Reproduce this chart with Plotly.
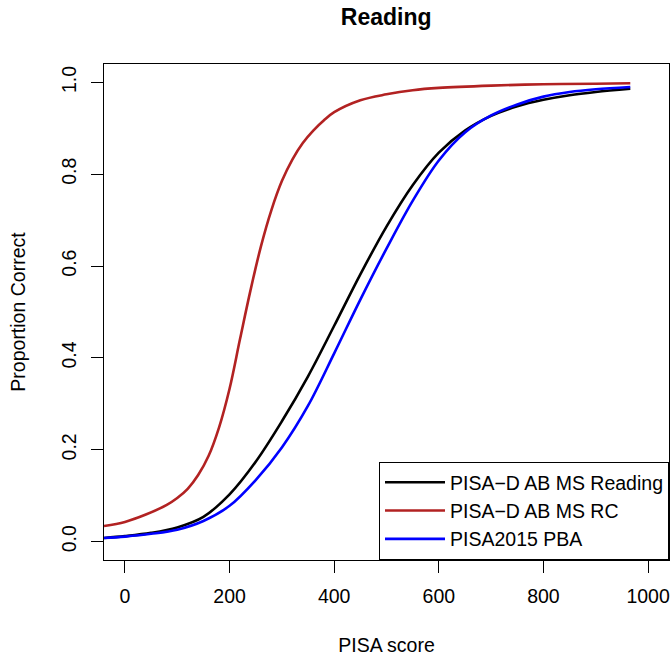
import plotly.graph_objects as go

# PISA score grid for the curves
score_red = [-40, 0, 40, 80, 100, 120, 140, 160, 180, 200, 220, 240, 260, 280, 300, 320, 340, 360, 380, 400, 450, 500, 550, 600, 700, 800, 900, 966]
rc_values = [0.034, 0.043, 0.059, 0.080, 0.095, 0.115, 0.145, 0.187, 0.249, 0.333, 0.441, 0.547, 0.643, 0.722, 0.785, 0.832, 0.868, 0.895, 0.917, 0.935, 0.961, 0.974, 0.983, 0.988, 0.993, 0.996, 0.997, 0.998]

score_grid = [-40, 0, 50, 100, 150, 200, 250, 300, 350, 400, 450, 500, 550, 600, 650, 700, 750, 800, 850, 900, 966]
reading_values = [0.008, 0.012, 0.019, 0.031, 0.054, 0.103, 0.174, 0.262, 0.360, 0.470, 0.582, 0.686, 0.776, 0.847, 0.895, 0.927, 0.948, 0.962, 0.972, 0.979, 0.986]
pba_values = [0.008, 0.011, 0.017, 0.026, 0.045, 0.078, 0.134, 0.205, 0.296, 0.410, 0.527, 0.638, 0.742, 0.830, 0.891, 0.928, 0.952, 0.969, 0.979, 0.985, 0.990]

series_names = ["PISA\u2212D AB MS Reading", "PISA\u2212D AB MS RC", "PISA2015 PBA"]
series_colors = ["#000000", "#B22222", "#0000FF"]

x_ticks = [0, 200, 400, 600, 800, 1000]
y_ticks = [0.0, 0.2, 0.4, 0.6, 0.8, 1.0]

FONT = "Liberation Sans, Arial, Helvetica, sans-serif"
FS = 19.5

fig = go.Figure()
for xs, ys, name, col in [(score_grid, reading_values, series_names[0], series_colors[0]),
                          (score_red, rc_values, series_names[1], series_colors[1]),
                          (score_grid, pba_values, series_names[2], series_colors[2])]:
    fig.add_trace(go.Scatter(x=xs, y=ys, mode="lines", name=name,
                             line=dict(color=col, width=2.6, shape="spline", smoothing=1.0)))

fig.update_layout(
    width=671, height=658,
    margin=dict(l=104, r=2, t=64, b=98),
    paper_bgcolor="white", plot_bgcolor="white",
    font=dict(family=FONT, size=FS, color="black"),
    title=dict(text="<b>Reading</b>", x=0.5755, xanchor="center", y=0.974, yanchor="middle",
               font=dict(size=23, family=FONT)),
    showlegend=True,
    legend=dict(x=1, y=0, xanchor="right", yanchor="bottom", bgcolor="white",
                bordercolor="black", borderwidth=1, font=dict(size=FS, family=FONT),
                tracegroupgap=0, itemwidth=60),
)

fig.update_xaxes(range=[-40, 1040], tickvals=x_ticks, ticktext=[str(v) for v in x_ticks],
                 showgrid=False, zeroline=False, showline=True, mirror=True, linecolor="black",
                 linewidth=1, ticks="outside", ticklen=12, tickcolor="black", tickwidth=1,
                 ticklabelstandoff=7,
                 title=dict(text="PISA score", standoff=31, font=dict(size=FS)))
fig.update_yaxes(range=[-0.04, 1.04], tickvals=y_ticks, ticktext=[f"{v:.1f}" for v in y_ticks],
                 tickangle=-90,
                 showgrid=False, zeroline=False, showline=True, mirror=True, linecolor="black",
                 linewidth=1, ticks="outside", ticklen=12, tickcolor="black", tickwidth=1,
                 ticklabelstandoff=7,
                 title=dict(text="Proportion Correct", standoff=27, font=dict(size=FS)))

fig.write_html("out.html", config={"displayModeBar": False},
               post_script="document.body.style.margin='0';")
